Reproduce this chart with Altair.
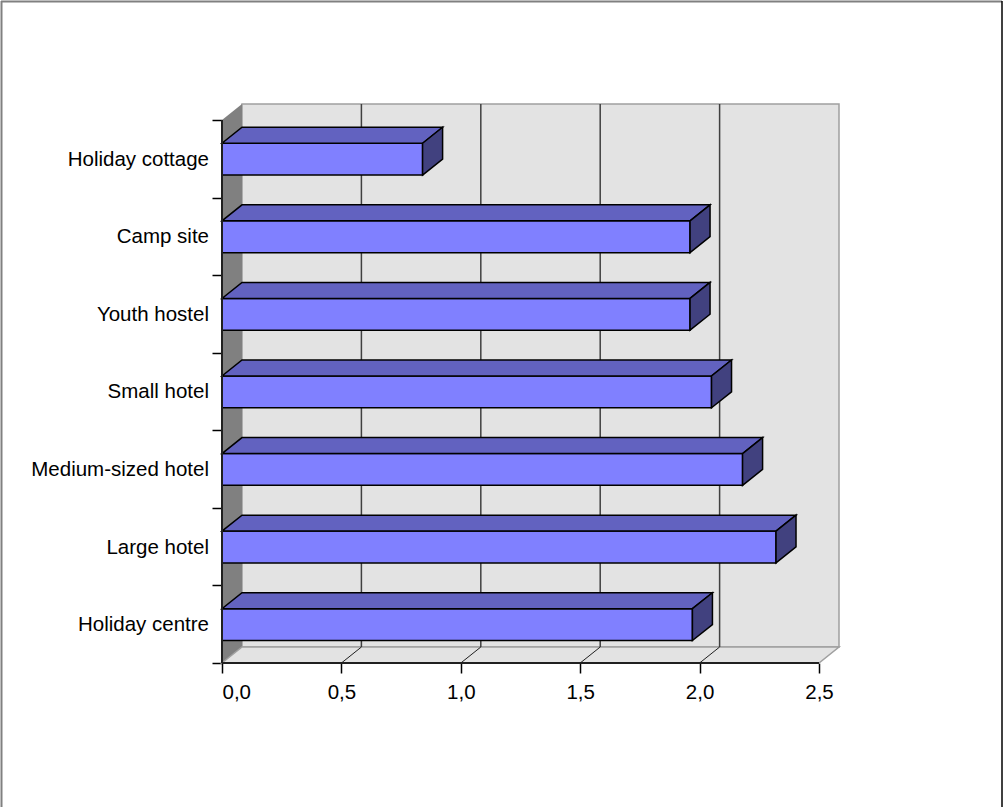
import altair as alt
import pandas as pd

# Accommodation types, listed bottom to top, and their scores
categories = [
    "Holiday centre",
    "Large hotel",
    "Medium-sized hotel",
    "Small hotel",
    "Youth hostel",
    "Camp site",
    "Holiday cottage",
]
values = [1.97, 2.32, 2.18, 2.05, 1.96, 1.96, 0.84]
x_ticks = [0.0, 0.5, 1.0, 1.5, 2.0, 2.5]
x_limit = 2.5

# --- layout of the pseudo-3D box -------------------------------------------
PAD_L, PAD_T = 222, 104
W, H = 617, 559
TOTAL_W, TOTAL_H = 1003, 807
n = len(categories)
DX = 0.0838          # depth offset along x (value units)
DY = 0.206           # depth offset along y (category units)
BAR_LO, BAR_HI = 0.29, 0.70   # front face position inside each category slot

FONT = "Liberation Sans"
FRONT, TOP, SIDE = "#8080FF", "#6262C0", "#41417F"
WALL, SIDEWALL, EDGE = "#E3E3E3", "#808080", "#A0A0A0"

xs = alt.Scale(domain=[0, x_limit + DX], nice=False, zero=False)
ys = alt.Scale(domain=[0, n + DY], nice=False, zero=False)

# shared axes: every layer carries the same definition so they merge into one
x_axis = alt.Axis(
    values=x_ticks, title=None, grid=False, domain=False, ticks=True, tickSize=10,
    tickColor="black", tickWidth=1.5, labelFont=FONT, labelFontSize=20.5, labelColor="black",
    labelPadding=9, labelExpr="replace(format(datum.value, '.1f'), '.', ',')",
)
y_axis = alt.Axis(
    values=list(range(n + 1)), title=None, grid=False, domain=False, ticks=True, tickSize=10,
    tickColor="black", tickWidth=1.5, labels=False,
)


def X(field):
    return alt.X(field, type="quantitative", scale=xs, axis=x_axis)


def Y(field):
    return alt.Y(field, type="quantitative", scale=ys, axis=y_axis, stack=False)


# --- walls and floor ----------------------------------------------------------
back_wall = alt.Chart(pd.DataFrame({"x0": [DX], "x1": [x_limit + DX], "y0": [DY], "y1": [n + DY]})).mark_rect(
    fill=WALL, stroke=EDGE, strokeWidth=1.5
).encode(x=X("x0"), x2="x1", y=Y("y0"), y2="y1")

side_wall = alt.Chart(pd.DataFrame({"x": [0, DX], "lo": [0, DY], "hi": [n, n + DY]})).mark_area(
    fill=SIDEWALL, orient="vertical"
).encode(x=X("x"), y=Y("lo"), y2="hi")

floor = alt.Chart(pd.DataFrame({
    "x": [0, DX, x_limit, x_limit + DX],
    "lo": [0, 0, 0, DY],
    "hi": [0, DY, DY, DY],
})).mark_area(fill=WALL, stroke=EDGE, strokeWidth=1.5, orient="vertical").encode(
    x=X("x"), y=Y("lo"), y2="hi"
)

inner = [t for t in x_ticks if 0 < t < x_limit]
grid = alt.Chart(pd.DataFrame({"x": [t + DX for t in inner], "y0": DY, "y1": n + DY})).mark_rule(
    color="#404040", strokeWidth=1.5
).encode(x=X("x"), y=Y("y0"), y2="y1")

floor_lines = alt.Chart(pd.DataFrame({
    "x0": inner, "x1": [t + DX for t in inner], "y0": 0.0, "y1": DY,
})).mark_rule(color="#202020", strokeWidth=1).encode(x=X("x0"), x2="x1", y=Y("y0"), y2="y1")

# --- bars: front, top and side faces ---------------------------------------------
front_df = pd.DataFrame({
    "cat": categories,
    "x0": 0.0,
    "x1": values,
    "y0": [i + BAR_LO for i in range(n)],
    "y1": [i + BAR_HI for i in range(n)],
})

top_rows, side_rows = [], []
for i, (c, v) in enumerate(zip(categories, values)):
    yt = i + BAR_HI
    yb = i + BAR_LO
    for x, lo, hi in [(0, yt, yt), (DX, yt, yt + DY), (v, yt, yt + DY), (v + DX, yt + DY, yt + DY)]:
        top_rows.append({"cat": c, "x": x, "lo": lo, "hi": hi})
    for x, lo, hi in [(v, yb, yt), (v + DX, yb + DY, yt + DY)]:
        side_rows.append({"cat": c, "x": x, "lo": lo, "hi": hi})

bar_front = alt.Chart(front_df).mark_rect(fill=FRONT, stroke="black", strokeWidth=1.5).encode(
    x=X("x0"), x2="x1", y=Y("y0"), y2="y1"
)
bar_top = alt.Chart(pd.DataFrame(top_rows)).mark_area(
    fill=TOP, stroke="black", strokeWidth=1.5, orient="vertical"
).encode(x=X("x"), y=Y("lo"), y2="hi", detail="cat:N")
bar_side = alt.Chart(pd.DataFrame(side_rows)).mark_area(
    fill=SIDE, stroke="black", strokeWidth=1.5, orient="vertical"
).encode(x=X("x"), y=Y("lo"), y2="hi", detail="cat:N")

# --- front edges of the box ---------------------------------------------------------
bottom_edge = alt.Chart(pd.DataFrame({"x0": [0.0], "x1": [x_limit], "y": [0.0]})).mark_rule(
    color="#202020", strokeWidth=2
).encode(x=X("x0"), x2="x1", y=Y("y"))
left_edge = alt.Chart(pd.DataFrame({"x": [0.0], "y0": [0.0], "y1": [float(n)]})).mark_rule(
    color="#202020", strokeWidth=2
).encode(x=X("x"), y=Y("y0"), y2="y1")

labels = alt.Chart(pd.DataFrame({
    "cat": categories, "x": 0.0, "y": [i + 0.5 for i in range(n)],
})).mark_text(
    align="right", baseline="middle", dx=-13, dy=1, font=FONT, fontSize=20.5, color="black"
).encode(x=X("x"), y=Y("y"), text="cat:N")

# --- outer chart frame ----------------------------------------------------------------
frame_df = pd.DataFrame({"k": [0]})
frame_top = alt.Chart(frame_df).mark_rule(color="#808080", strokeWidth=2).encode(
    x=alt.value(-PAD_L + 1), x2=alt.value(TOTAL_W - PAD_L - 1),
    y=alt.value(-PAD_T + 1.5), y2=alt.value(-PAD_T + 1.5),
)
frame_left = alt.Chart(frame_df).mark_rule(color="#808080", strokeWidth=2).encode(
    x=alt.value(-PAD_L + 1.5), x2=alt.value(-PAD_L + 1.5),
    y=alt.value(-PAD_T + 1), y2=alt.value(TOTAL_H - PAD_T),
)
frame_right = alt.Chart(frame_df).mark_rule(color="black", strokeWidth=1.5).encode(
    x=alt.value(TOTAL_W - PAD_L - 1), x2=alt.value(TOTAL_W - PAD_L - 1),
    y=alt.value(-PAD_T + 1), y2=alt.value(TOTAL_H - PAD_T),
)

chart = alt.layer(
    back_wall, side_wall, floor, grid, floor_lines,
    bar_front, bar_top, bar_side,
    bottom_edge, left_edge, labels,
    frame_top, frame_left, frame_right,
).properties(
    width=W,
    height=H,
    autosize=alt.AutoSizeParams(type="none"),
    padding={"left": PAD_L, "top": PAD_T, "right": TOTAL_W - PAD_L - W, "bottom": TOTAL_H - PAD_T - H},
    background="white",
).configure_view(strokeWidth=0)

chart.save("out.html", embed_options={"renderer": "svg", "actions": False})
